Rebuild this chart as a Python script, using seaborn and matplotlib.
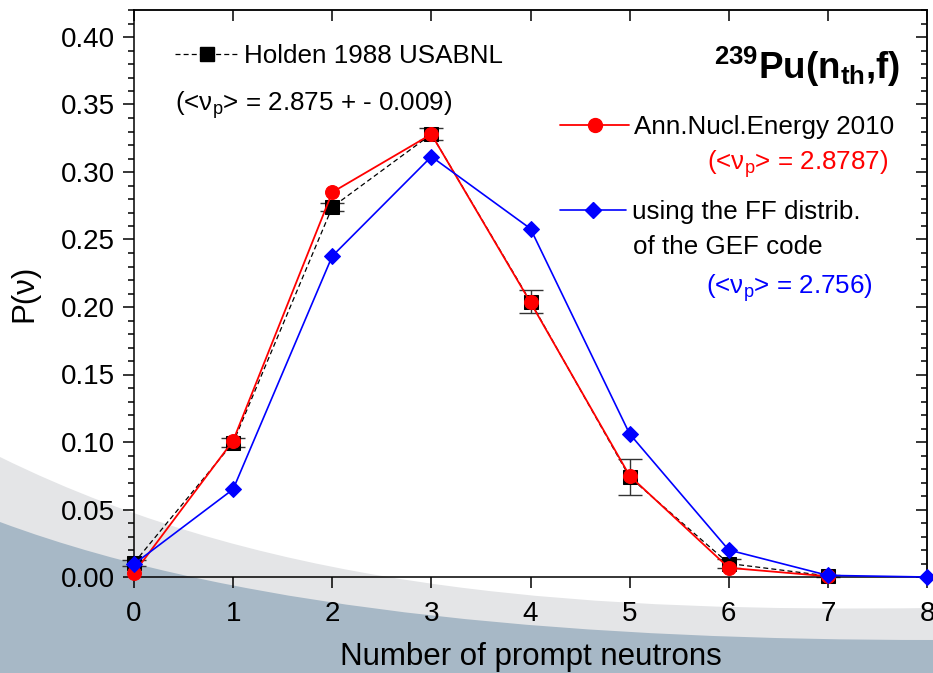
import numpy as np
import pandas as pd
import matplotlib
matplotlib.use("Agg")
import matplotlib.pyplot as plt
from matplotlib.lines import Line2D
from matplotlib.path import Path
from matplotlib.patches import PathPatch
from matplotlib.ticker import MultipleLocator, FormatStrFormatter
import seaborn as sns

# ---------------------------------------------------------
# Data
# ---------------------------------------------------------
nu = [0, 1, 2, 3, 4, 5, 6, 7]
holden = [0.0104, 0.0995, 0.274, 0.328, 0.204, 0.074, 0.010, 0.0008]
holden_err = [0.002, 0.0033, 0.003, 0.0043, 0.0086, 0.0135, 0.003, 0.0005]

ann_2010 = [0.003, 0.101, 0.285, 0.328, 0.2034, 0.075, 0.0068, 0.0005]

nu_gef = [0, 1, 2, 3, 4, 5, 6, 7, 8]
gef = [0.0096, 0.065, 0.2377, 0.3114, 0.258, 0.106, 0.020, 0.0012, 0.0]

df_holden = pd.DataFrame({"nu": nu, "P": holden, "err": holden_err})
df_ann = pd.DataFrame({"nu": nu, "P": ann_2010})
df_gef = pd.DataFrame({"nu": nu_gef, "P": gef})

# ---------------------------------------------------------
# Style
# ---------------------------------------------------------
sns.set_style("ticks")
plt.rcParams["font.family"] = ["Liberation Sans", "DejaVu Sans"]
plt.rcParams["mathtext.fontset"] = "custom"
plt.rcParams["mathtext.rm"] = "Liberation Sans"
plt.rcParams["mathtext.bf"] = "Liberation Sans:bold"
plt.rcParams["mathtext.it"] = "Liberation Sans:italic"
plt.rcParams["text.color"] = "black"
plt.rcParams["axes.labelcolor"] = "black"
plt.rcParams["xtick.color"] = "black"
plt.rcParams["ytick.color"] = "black"

W, H = 933, 673
fig = plt.figure(figsize=(W / 100, H / 100), dpi=100, facecolor="white")

# slide background: grey and blue-grey swooshes at the bottom
def swoosh(p0, c1, c2, p3):
    verts = [p0, c1, c2, p3, (W, H), (0, H), p0]
    verts = [(x / W, 1 - y / H) for x, y in verts]
    codes = [Path.MOVETO, Path.CURVE4, Path.CURVE4, Path.CURVE4,
             Path.LINETO, Path.LINETO, Path.CLOSEPOLY]
    return Path(verts, codes)

fig.patches.append(PathPatch(swoosh((0, 457), (280, 595), (600, 612), (W, 608)),
                             transform=fig.transFigure, facecolor="#e4e5e7",
                             edgecolor="none", zorder=-10))
fig.patches.append(PathPatch(swoosh((0, 522), (250, 615), (600, 640), (W, 640)),
                             transform=fig.transFigure, facecolor="#a7b8c6",
                             edgecolor="none", zorder=-9))

ax = fig.add_axes([134 / W, 1 - 577 / H, (927 - 134) / W, (577 - 10) / H])
ax.patch.set_alpha(0)

holden_dash = (0, (4, 2.5))

# ---------------------------------------------------------
# Curves
# ---------------------------------------------------------
ax.errorbar(df_holden["nu"], df_holden["P"], yerr=df_holden["err"], fmt="none",
            ecolor="#333333", elinewidth=1, capsize=8.5, capthick=1,
            zorder=2, clip_on=False)
sns.lineplot(data=df_holden, x="nu", y="P", ax=ax, color="black",
             linestyle=holden_dash, linewidth=0.9, marker="s", markersize=10,
             markeredgecolor="black", zorder=2, clip_on=False, legend=False)
sns.lineplot(data=df_ann, x="nu", y="P", ax=ax, color="red", linewidth=1.3,
             marker="o", markersize=10, markeredgecolor="red", zorder=3,
             clip_on=False, legend=False)
sns.lineplot(data=df_gef, x="nu", y="P", ax=ax, color="blue", linewidth=1.2,
             marker="D", markersize=8.3, markeredgecolor="blue", zorder=4,
             clip_on=False, legend=False)

# ---------------------------------------------------------
# Axes
# ---------------------------------------------------------
ax.set_xlim(0, 8)
ax.set_ylim(0, 0.42)
ax.xaxis.set_major_locator(MultipleLocator(1))
ax.yaxis.set_major_locator(MultipleLocator(0.05))
ax.yaxis.set_minor_locator(MultipleLocator(0.01))
ax.yaxis.set_major_formatter(FormatStrFormatter("%.2f"))
ax.tick_params(axis="both", which="major", direction="out", length=8, width=1.1,
               labelsize=20, color="black", labelcolor="black")
ax.tick_params(axis="y", which="major", pad=6)
ax.tick_params(axis="x", which="major", pad=9)
ax.tick_params(axis="y", which="minor", direction="out", length=4.5, width=1.1)
for s in ax.spines.values():
    s.set_linewidth(1.1)
    s.set_color("black")

top = ax.secondary_xaxis("top")
top.xaxis.set_major_locator(MultipleLocator(1))
top.tick_params(direction="in", length=8, width=1.1, labeltop=False)
top.spines["top"].set_linewidth(1.1)
right = ax.secondary_yaxis("right")
right.yaxis.set_major_locator(MultipleLocator(0.05))
right.yaxis.set_minor_locator(MultipleLocator(0.01))
right.tick_params(which="major", direction="in", length=8, width=1.1, labelright=False)
right.tick_params(which="minor", direction="in", length=4.5, width=1.1)
right.spines["right"].set_linewidth(1.1)

ax.set_xlabel("Number of prompt neutrons", fontsize=22.5, labelpad=11)
ax.set_ylabel("P(ν)", fontsize=22.5, labelpad=15)

# ---------------------------------------------------------
# Legend entries and annotations
# ---------------------------------------------------------
def entry(handle, label, x, y, hl):
    leg = ax.legend(handles=[handle], labels=[label], loc="center left",
                    bbox_to_anchor=(x, y), bbox_transform=ax.transData,
                    frameon=False, borderpad=0, borderaxespad=0,
                    handlelength=hl, handletextpad=0.2, fontsize=18.7,
                    numpoints=1, labelcolor="black")
    ax.add_artist(leg)
    ax.legend_ = None  # keep only the copy added as an artist

entry(Line2D([], [], color="black", linestyle=holden_dash, linewidth=0.9,
             marker="s", markersize=10), "Holden 1988 USABNL", 0.414, 0.386, 2.45)
entry(Line2D([], [], color="red", linewidth=1.3, marker="o", markersize=10),
      "Ann.Nucl.Energy 2010", 4.30, 0.333, 2.65)
entry(Line2D([], [], color="blue", linewidth=1.2, marker="D", markersize=8.3),
      "using the FF distrib.", 4.30, 0.270, 2.55)

ax.text(0.414, 0.3454, r"(<ν$_\mathregular{p}$> = 2.875 + - 0.009)", fontsize=18.7,
        color="black", va="baseline")
ax.text(5.78, 0.3018, r"(<ν$_\mathregular{p}$> = 2.8787)", fontsize=18.7,
        color="red", va="baseline")
ax.text(5.035, 0.2396, "of the GEF code", fontsize=18.7, color="black", va="baseline")
ax.text(5.77, 0.210, r"(<ν$_\mathregular{p}$> = 2.756)", fontsize=18.7,
        color="blue", va="baseline")
ax.text(7.73, 0.369, r"$^{\mathbf{239}}$Pu(n$_{\mathbf{th}}$,f)", fontsize=26.5,
        fontweight="bold", ha="right", va="baseline")

plt.savefig("out.png", dpi=100, facecolor=fig.get_facecolor())
